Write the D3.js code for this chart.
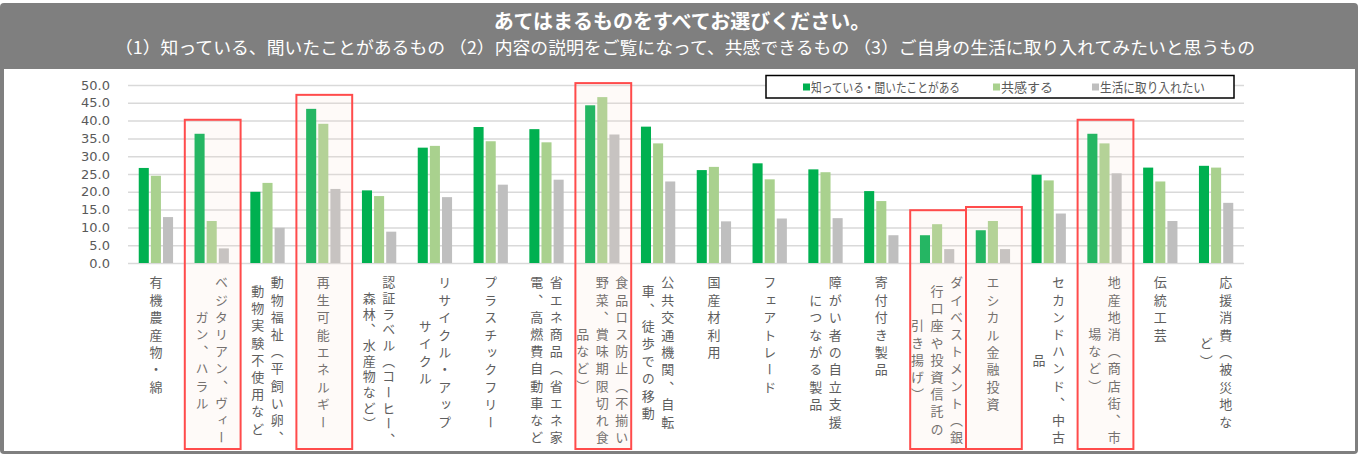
<!DOCTYPE html>
<html>
<head>
<meta charset="utf-8">
<script src="https://cdn.jsdelivr.net/npm/d3@7"></script>
<style>
  body { margin: 0; background: #fff; }
  svg { display: block; }
</style>
</head>
<body>
<svg id="chart" width="1366" height="460"></svg>
<script>
// category labels, already broken into the vertical columns used on the axis
const categories = [
  ["有機農産物・綿"],
  ["ベジタリアン、ヴィー", "ガン、ハラル"],
  ["動物福祉（平飼い卵、", "動物実験不使用など"],
  ["再生可能エネルギー"],
  ["認証ラベル（コーヒー、", "森林、水産物など）"],
  ["リサイクル・アップ", "サイクル"],
  ["プラスチックフリー"],
  ["省エネ商品（省エネ家", "電、高燃費自動車など"],
  ["食品ロス防止（不揃い", "野菜、賞味期限切れ食", "品など）"],
  ["公共交通機関、自転", "車、徒歩での移動"],
  ["国産材利用"],
  ["フェアトレード"],
  ["障がい者の自立支援", "につながる製品"],
  ["寄付付き製品"],
  ["ダイベストメント（銀", "行口座や投資信託の", "引き揚げ）"],
  ["エシカル金融投資"],
  ["セカンドハンド、中古", "品"],
  ["地産地消（商店街、市", "場など）"],
  ["伝統工芸"],
  ["応援消費（被災地な", "ど）"]
];

const seriesNames = ["知っている・聞いたことがある", "共感する", "生活に取り入れたい"];
const known   = [26.7, 36.3, 20.0, 43.3, 20.4, 32.4, 38.2, 37.6, 44.3, 38.3, 26.1, 28.0, 26.3, 20.2, 7.8, 9.2, 24.8, 36.3, 26.8, 27.3];
const empathy = [24.5, 11.8, 22.5, 39.1, 18.8, 32.9, 34.2, 33.9, 46.6, 33.6, 27.0, 23.5, 25.5, 17.4, 10.9, 11.8, 23.2, 33.6, 22.9, 26.8];
const adopt   = [12.9, 4.1, 9.9, 20.8, 8.8, 18.5, 22.0, 23.4, 36.1, 22.9, 11.7, 12.5, 12.6, 7.8, 3.9, 3.9, 13.9, 25.2, 11.8, 16.9];
const yTicks = [0, 5, 10, 15, 20, 25, 30, 35, 40, 45, 50];
// categories framed in red in the original slide
const highlighted = [1, 3, 8, 14, 15, 17];

const colors = ["#00b050", "#a9d18e", "#bfbfbf"];
const JP = "'Noto Sans CJK JP', 'Noto Sans', sans-serif";
const GREY_TEXT = "#5e5e5e";

const svg = d3.select("#chart");
const plot = { left: 128, right: 1244, top: 85, bottom: 263 };

const rows = categories.map((c, i) => ({ i, cols: c, vals: [known[i], empathy[i], adopt[i]] }));

const x0 = d3.scaleBand()
  .domain(d3.range(categories.length))
  .range([plot.left, plot.right])
  .paddingInner(0.385)
  .paddingOuter(0.1925);
const x1 = d3.scaleBand().domain([0, 1, 2]).range([0, x0.bandwidth()]).paddingInner(0.17);
const y = d3.scaleLinear().domain([0, 50]).range([plot.bottom, plot.top]);

// frame + header
svg.append("rect").attr("x", 0).attr("y", 3).attr("width", 1358).attr("height", 451)
  .attr("rx", 4).attr("fill", "#7f7f7f");
svg.append("rect").attr("x", 4).attr("y", 69).attr("width", 1351).attr("height", 382).attr("fill", "#fff");

svg.append("text")
  .attr("x", 682).attr("y", 29)
  .attr("text-anchor", "middle")
  .attr("fill", "#fff")
  .style("font-family", JP).style("font-size", "20px").style("font-weight", 700)
  .text("あてはまるものをすべてお選びください。");

svg.append("text")
  .attr("x", 115).attr("y", 54)
  .attr("fill", "#fff")
  .attr("textLength", 1140).attr("lengthAdjust", "spacingAndGlyphs")
  .style("font-family", JP).style("font-size", "17px")
  .text("（1）知っている、聞いたことがあるもの （2）内容の説明をご覧になって、共感できるもの （3）ご自身の生活に取り入れてみたいと思うもの");

// y axis with gridlines
const yAxis = d3.axisLeft(y)
  .tickValues(yTicks)
  .tickFormat(d3.format(".1f"))
  .tickSize(-(plot.right - plot.left))
  .tickPadding(18);

svg.append("g")
  .attr("transform", `translate(${plot.left},0)`)
  .call(yAxis)
  .call((g) => g.select(".domain").remove())
  .call((g) => g.selectAll(".tick line").attr("stroke", "#d9d9d9").attr("stroke-width", 1.5))
  .call((g) => g.selectAll(".tick text")
    .attr("fill", "#595959")
    .style("font-family", "'DejaVu Sans', sans-serif")
    .style("font-size", "13px"));

// bars
const groups = svg.append("g").selectAll("g")
  .data(rows)
  .join("g")
  .attr("transform", (d) => `translate(${x0(d.i)},0)`);

groups.selectAll("rect")
  .data((d) => d.vals)
  .join("rect")
  .attr("x", (v, k) => x1(k))
  .attr("width", x1.bandwidth())
  .attr("y", (v) => y(v))
  .attr("height", (v) => y(0) - y(v))
  .attr("fill", (v, k) => colors[k]);

// vertical category labels (columns run right to left)
const COL_GAP = 19.5;
const LABEL_TOP = 276;
const FS = 13;
rows.forEach((d) => {
  const n = d.cols.length;
  const M = d3.max(d.cols, (c) => c.length);
  const pitch = Math.min(17.4, 172 / M);
  const cx = x0(d.i) + x0.bandwidth() / 2;
  d.cols.forEach((c, k) => {
    svg.append("text")
      .attr("x", cx + ((n - 1) / 2 - k) * COL_GAP)
      .attr("y", LABEL_TOP + (M * pitch) / 2)
      .attr("text-anchor", "middle")
      .attr("fill", GREY_TEXT)
      .style("writing-mode", "vertical-rl")
      .style("font-family", JP)
      .style("font-size", FS + "px")
      .style("letter-spacing", (pitch - FS) + "px")
      .text(c);
  });
});

// red highlight frames (translucent, drawn over the bars like in the slide)
svg.append("g").selectAll("rect")
  .data(highlighted)
  .join("rect")
  .attr("x", (i) => x0(i) + x0.bandwidth() / 2 - x0.step() / 2 + 1)
  .attr("width", x0.step())
  .attr("y", (i) => y(d3.max(rows[i].vals)) - 14)
  .attr("height", (i) => 449 - (y(d3.max(rows[i].vals)) - 14))
  .attr("fill", "rgba(250,224,208,0.15)")
  .attr("stroke", "#ff4b4b")
  .attr("stroke-width", 2);

// legend
const legend = svg.append("g");
legend.append("rect")
  .attr("x", 766).attr("y", 75.5).attr("width", 468).attr("height", 22.5)
  .attr("fill", "#fff").attr("stroke", "#000").attr("stroke-width", 1.5);
const legendX = [803, 993, 1092];
const legendW = [149, 52, 105];
seriesNames.forEach((s, k) => {
  legend.append("rect")
    .attr("x", legendX[k]).attr("y", 83.5).attr("width", 7).attr("height", 7)
    .attr("fill", colors[k]);
  legend.append("text")
    .attr("x", legendX[k] + 8).attr("y", 91.5)
    .attr("fill", "#595959")
    .attr("textLength", legendW[k]).attr("lengthAdjust", "spacingAndGlyphs")
    .style("font-family", JP).style("font-size", "13px")
    .text(s);
});
</script>
</body>
</html>
